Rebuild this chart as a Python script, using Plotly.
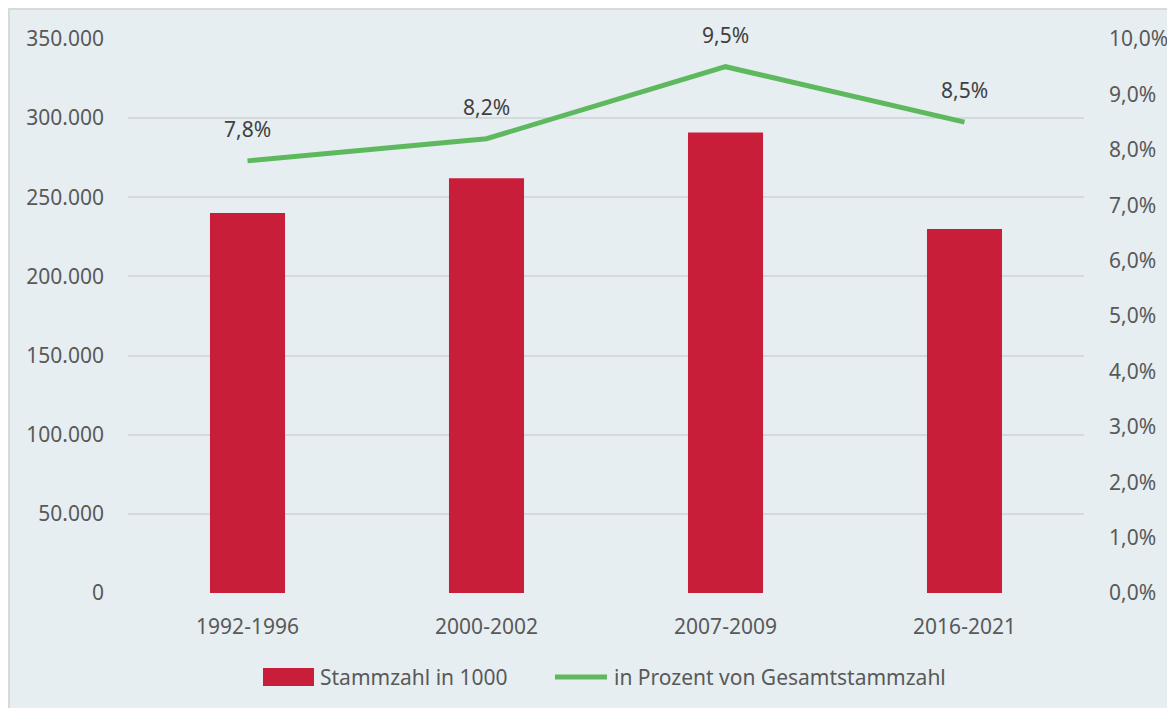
import plotly.graph_objects as go
from plotly.subplots import make_subplots

categories = ["1992-1996", "2000-2002", "2007-2009", "2016-2021"]
stammzahl = [240000, 262000, 291000, 230000]
prozent = [0.078, 0.082, 0.095, 0.085]
prozent_labels = ["7,8%", "8,2%", "9,5%", "8,5%"]
legend_names = ["Stammzahl in 1000", "in Prozent von Gesamtstammzahl"]

BG = "#e6eef2"
FONT = "Noto Sans"
TICK = "#595959"
RED = "#c91e3a"
GREEN = "#5eb95e"
FS = 21

# plot area geometry (page pixels), used for paper-coordinate conversion
PL, PR, PT, PB = 128, 1084, 39, 593
PW, PH = PR - PL, PB - PT


def px(x):
    return (x - PL) / PW


def py(y):
    return (PB - y) / PH


fig = make_subplots(specs=[[{"secondary_y": True}]])
fig.add_trace(go.Bar(x=categories, y=stammzahl, name=legend_names[0],
                     marker=dict(color=RED, line=dict(width=0)), showlegend=False),
              secondary_y=False)
fig.add_trace(go.Scatter(x=categories, y=prozent, name=legend_names[1],
                         mode="lines", line=dict(color=GREEN, width=5), showlegend=False),
              secondary_y=True)

for c, v, t in zip(categories, prozent, prozent_labels):
    fig.add_annotation(x=c, y=v, yref="y2", text=t, showarrow=False,
                       yanchor="middle", yshift=32,
                       font=dict(family=FONT, size=FS, color="#404040"))

# chart-area background and border
fig.add_shape(type="rect", xref="paper", yref="paper",
              x0=px(9), x1=px(1190), y0=py(720), y1=py(9),
              fillcolor=BG, line=dict(color="#d9d9d9", width=2), layer="below")

# legend
fig.add_shape(type="rect", xref="paper", yref="paper",
              x0=px(263), x1=px(314), y0=py(686), y1=py(668),
              fillcolor=RED, line=dict(width=0))
fig.add_annotation(xref="paper", yref="paper", x=px(318), y=py(677),
                   xanchor="left", yanchor="middle", text=legend_names[0],
                   showarrow=False, font=dict(family=FONT, size=FS, color=TICK))
fig.add_shape(type="line", xref="paper", yref="paper",
              x0=px(555), x1=px(607), y0=py(677), y1=py(677),
              line=dict(color=GREEN, width=5))
fig.add_annotation(xref="paper", yref="paper", x=px(612), y=py(677),
                   xanchor="left", yanchor="middle", text=legend_names[1],
                   showarrow=False, font=dict(family=FONT, size=FS, color=TICK))

# figure is placed at (8, 8) by the page's default body margin
W, H = 1167, 700
fig.update_layout(
    width=W, height=H,
    margin=dict(l=PL - 8, r=W - (PR - 8), t=PT - 8, b=H - (PB - 8)),
    paper_bgcolor="white", plot_bgcolor="rgba(0,0,0,0)",
    separators=",.",
    bargap=0.686,
    font=dict(family=FONT, size=FS, color=TICK),
    showlegend=False,
)
fig.update_xaxes(domain=[0, 1], showgrid=False, showline=False, ticks="",
                 ticklabelstandoff=19, automargin=False,
                 tickfont=dict(family=FONT, size=FS, color=TICK))
fig.update_yaxes(range=[0, 350000], dtick=50000, tickformat=",d", showgrid=True,
                 gridcolor="#d6d9dc", gridwidth=1.5, zeroline=False, showline=False,
                 ticks="", ticklabelstandoff=23, automargin=False,
                 tickfont=dict(family=FONT, size=FS, color=TICK), secondary_y=False)
fig.update_yaxes(range=[0, 0.1], dtick=0.01, tickformat=".1%", showgrid=False,
                 zeroline=False, showline=False, ticks="", ticklabelstandoff=24,
                 automargin=False,
                 tickfont=dict(family=FONT, size=FS, color=TICK), secondary_y=True)

fig.write_html("out.html")
